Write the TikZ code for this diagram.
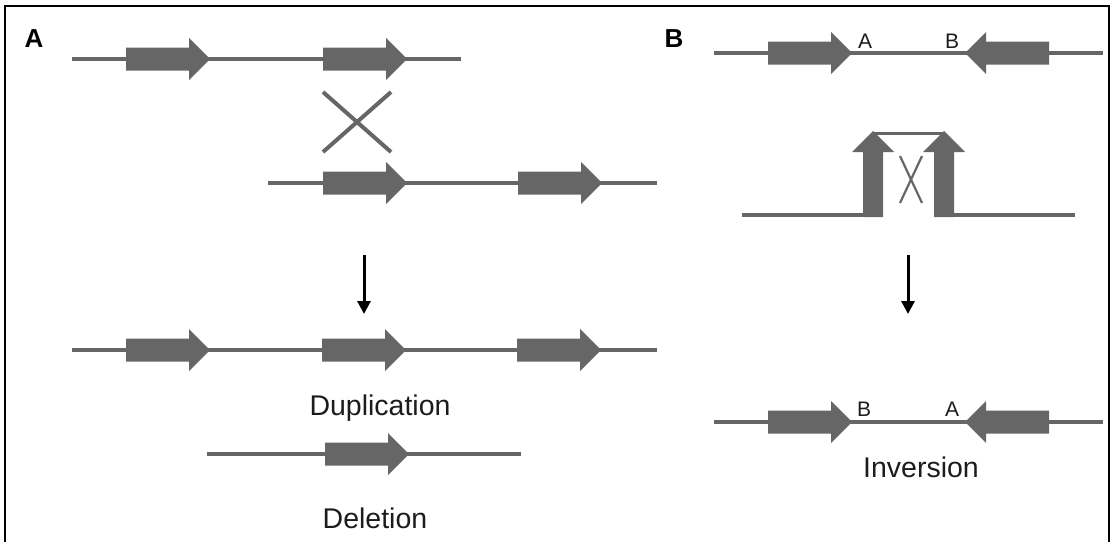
\documentclass[tikz,border=0pt]{standalone}
\usepackage{fontspec}
\setmainfont{Liberation Sans}
\usetikzlibrary{arrows.meta}

\definecolor{dnagray}{RGB}{102,102,102}
\definecolor{inkdark}{RGB}{28,28,28}

\tikzset{
  dna/.style={draw=dnagray, line width=4.5pt},
  cross/.style={draw=dnagray, line width=4pt},
  thincross/.style={draw=dnagray, line width=2.2pt},
  stepdown/.style={draw=black, line width=3pt, -{Triangle[width=13pt,length=13pt]}},
  caption/.style={text=inkdark, font=\fontsize{28.5}{34}\selectfont, anchor=base, inner sep=0pt},
  panel/.style={text=black, font=\bfseries\fontsize{26}{30}\selectfont, anchor=base, inner sep=0pt},
  site/.style={text=inkdark, font=\fontsize{21}{25}\selectfont, anchor=base, inner sep=0pt},
  % gene drawn with its tip at the pic origin, pointing along +x
  gene/.pic={
    \fill[dnagray] (-84,-11.5) -- (-21,-11.5) -- (-21,-21) -- (0,0)
                   -- (-21,21) -- (-21,11.5) -- (-84,11.5) -- cycle;
  },
  slimgene/.pic={
    \fill[dnagray] (-86,-10) -- (-21,-10) -- (-21,-21) -- (0,0)
                   -- (-21,21) -- (-21,10) -- (-86,10) -- cycle;
  }
}

\begin{document}
\begin{tikzpicture}[x=1pt,y=-1pt]
\useasboundingbox (0,0) rectangle (1115,541);
% outer frame
\draw[line width=2pt] (4.5,545) -- (4.5,5.5) -- (1109,5.5) -- (1109,545);

% ---------- panel A ----------
\node[panel] (labA) at (34,47) {A};

% first chromosome
\coordinate (a1l) at (72,59);  \coordinate (a1r) at (461,59);
\draw[dna] (a1l) -- (a1r);
\pic at (210,59) {gene};
\pic at (407,59) {gene};

% crossover
\coordinate (xa) at (323,92);  \coordinate (xb) at (391,152);
\coordinate (xc) at (323,152); \coordinate (xd) at (391,92);
\draw[cross] (xa) -- (xb);
\draw[cross] (xc) -- (xd);

% second chromosome
\coordinate (a2l) at (268,183); \coordinate (a2r) at (657,183);
\draw[dna] (a2l) -- (a2r);
\pic at (407,183) {gene};
\pic at (602,183) {gene};

% result arrow
\coordinate (aTop) at (364,255); \coordinate (aTip) at (364,314);
\draw[stepdown] (aTop) -- (aTip);

% duplication product
\coordinate (dl) at (72,350); \coordinate (dr) at (657,350);
\draw[dna] (dl) -- (dr);
\pic at (210,350) {gene};
\pic at (406,350) {gene};
\pic at (601,350) {gene};
\node[caption] (dup) at (380,415) {Duplication};

% deletion product
\coordinate (ell) at (207,454); \coordinate (elr) at (521,454);
\draw[dna] (ell) -- (elr);
\pic at (409,454) {gene};
\node[caption] (del) at (375,528) {Deletion};

% ---------- panel B ----------
\node[panel] (labB) at (674,47) {B};

% inverted repeats
\coordinate (b1l) at (714,53); \coordinate (b1r) at (1103,53);
\draw[dna] (b1l) -- (b1r);
\pic at (852,53) {gene};
\pic[xscale=-1] at (965,53) {gene};
\node[site] (sA1) at (865,48) {A};
\node[site] (sB1) at (952,48) {B};

% looped intermediate
\coordinate (bml) at (742,215); \coordinate (bmr) at (1075,215);
\draw[dna] (bml) -- (864,215);
\draw[dna] (954,215) -- (bmr);
\pic[rotate=90] at (873,131) {slimgene};
\pic[rotate=90] at (944,131) {slimgene};
\coordinate (tipL) at (873,133); \coordinate (tipR) at (944,133);
\draw[draw=dnagray, line width=3pt] (tipL) -- (tipR);
\coordinate (ya) at (900,156); \coordinate (yb) at (922,203);
\coordinate (yc) at (922,156); \coordinate (yd) at (900,203);
\draw[thincross] (ya) -- (yb);
\draw[thincross] (yc) -- (yd);

% result arrow
\coordinate (bTop) at (908,255); \coordinate (bTip) at (908,314);
\draw[stepdown] (bTop) -- (bTip);

% inversion product
\coordinate (b2l) at (714,422); \coordinate (b2r) at (1103,422);
\draw[dna] (b2l) -- (b2r);
\pic at (852,422) {gene};
\pic[xscale=-1] at (965,422) {gene};
\node[site] (sB2) at (864,416) {B};
\node[site] (sA2) at (952,416) {A};
\node[caption] (inv) at (921,477) {Inversion};
\end{tikzpicture}
\end{document}
